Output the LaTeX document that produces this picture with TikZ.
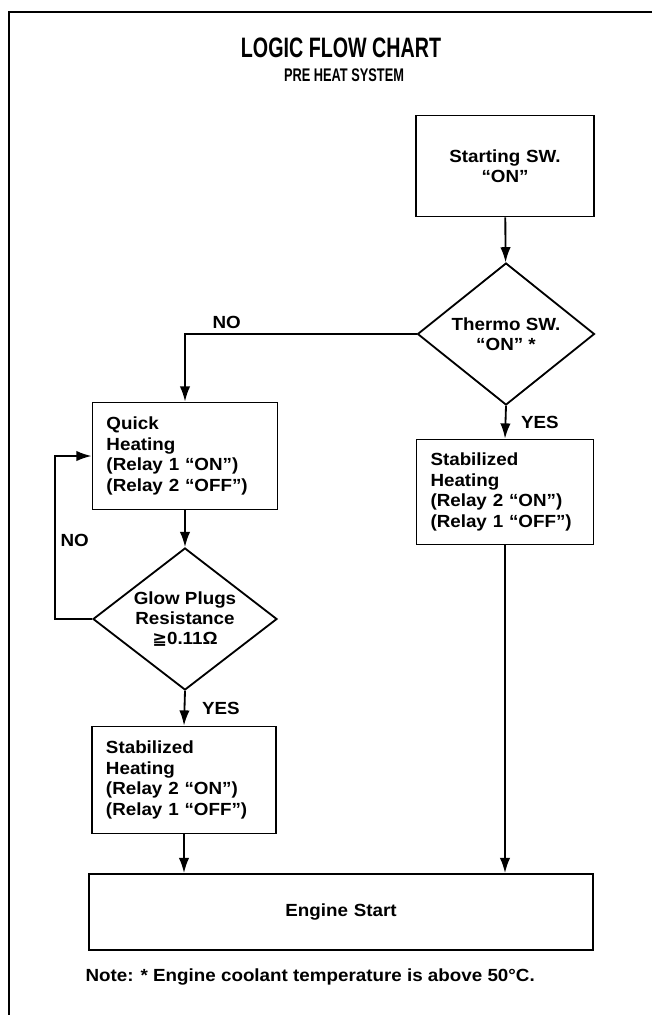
\documentclass[tikz,border=0pt]{standalone}
\usepackage{fontspec}
\setmainfont[FakeStretch=1.07]{Liberation Sans}
\newfontfamily\titlefont[FakeStretch=0.7]{Liberation Sans}
\newfontfamily\symbolfont{DejaVu Sans}
\usetikzlibrary{arrows.meta,shapes.geometric,positioning}

\begin{document}
\begin{tikzpicture}[x=0.25mm,y=-0.25mm,->,>={Latex[length=3.8mm,width=2.6mm]},line width=1.3pt,
    font=\fontsize{12.5}{14.5}\selectfont\bfseries]
  \tikzstyle{block}=[draw,rectangle,text width=39.25mm,align=left,inner xsep=3.5mm,minimum height=26.75mm]
  \tikzstyle{decision}=[draw,diamond,aspect=1.3,inner sep=0pt,align=center,minimum width=46mm,minimum height=35.5mm]
  \useasboundingbox (0,0) rectangle (652,1015);

  % frame and headings
  \draw[-,line width=1.6pt] (652,12) -- (9,12) -- (9,1015);
  \node[font=\titlefont\fontsize{20}{24}\selectfont\bfseries] (title) at (341,48) {LOGIC FLOW CHART};
  \node[font=\titlefont\fontsize{13}{15}\selectfont\bfseries] (subtitle) at (344,75) {PRE HEAT SYSTEM};

  % right column
  \node[block,text width=37.5mm,align=center,minimum height=25.25mm] (start) at (505,166) {Starting SW.\\“ON”};
  \node[decision,minimum width=44.25mm] (thermo) at (506,334) {Thermo SW.\\“ON” *};
  \node[block,text width=37.25mm,minimum height=26.25mm] (stabright) at (505,492) {Stabilized\\Heating\\(Relay 2 “ON”)\\(Relay 1 “OFF”)};

  % left column
  \node[block] (quick) at (185,456) {Quick\\Heating\\(Relay 1 “ON”)\\(Relay 2 “OFF”)};
  \node[decision] (glow) at (185,619) {Glow Plugs\\Resistance\\{\symbolfont ≧}0.11Ω};
  \node[block,text width=39mm] (stableft) at (184,780) {Stabilized\\Heating\\(Relay 2 “ON”)\\(Relay 1 “OFF”)};

  \node[block,text width=119mm,align=center,minimum height=19mm] (engine) at (341,912) {Engine Start};
  \node[anchor=west] (note) at (80,977) {Note: * Engine coolant temperature is above 50°C.};

  \coordinate (loop) at (55,619);

  \path (start) edge (thermo)
        (thermo.south) edge node[right=2.5mm] (yes1) {YES} (stabright.north)
        (quick) edge (glow)
        (glow.south) edge node[right=3mm] (yes2) {YES} (stableft.north)
        (stableft.south) edge (stableft.south |- engine.north)
        (stabright.south) edge (stabright.south |- engine.north);
  \draw (thermo.west) -| node[above,pos=0.41] (no1) {NO} (quick.north);
  \draw (glow.west) -- (loop) |- node[right,pos=0.24] (no2) {NO} (quick.west);
\end{tikzpicture}
\end{document}
